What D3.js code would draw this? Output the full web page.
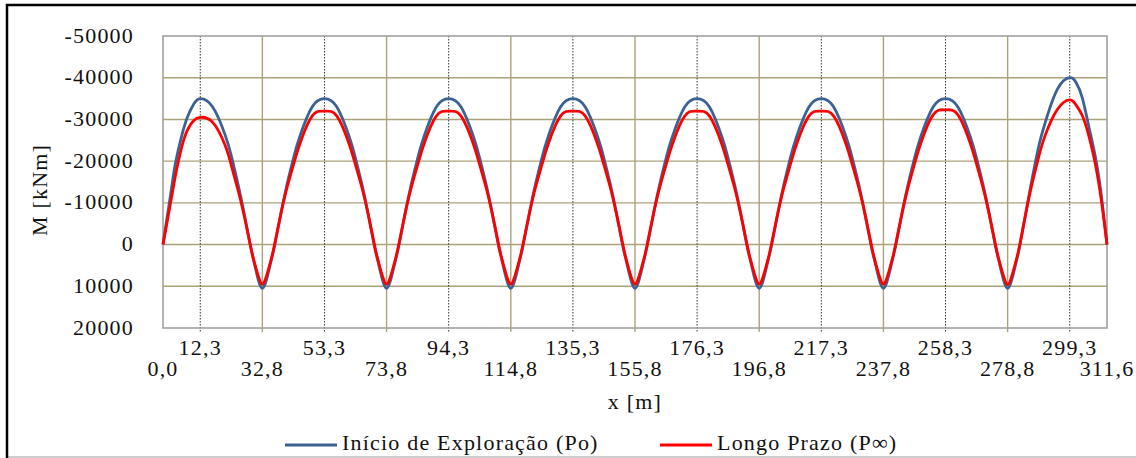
<!DOCTYPE html>
<html>
<head>
<meta charset="utf-8">
<script src="https://cdn.jsdelivr.net/npm/d3@7/dist/d3.min.js"></script>
<style>
    body { margin: 0; background: #fff; }
</style>
</head>
<body>
<svg id="chart" width="1136" height="458"></svg>
<script>
// x positions along the beam [m]
const xPos = [
    0, 1.0, 2.05, 3.1, 4.1, 6.15, 8.2, 10.25, 12.3, 16.4, 20.5, 22.55, 24.6, 26.65, 28.7, 29.7, 30.75, 31.8, 32.8,
    33.8, 34.85, 35.9, 36.9, 38.95, 41.0, 43.05, 45.1, 49.2, 53.3, 57.4, 61.5, 63.55, 65.6, 67.65, 69.7, 70.7, 71.75, 72.8, 73.8,
    74.8, 75.85, 76.9, 77.9, 79.95, 82.0, 84.05, 86.1, 90.2, 94.3, 98.4, 102.5, 104.55, 106.6, 108.65, 110.7, 111.7, 112.75, 113.8, 114.8,
    115.8, 116.85, 117.9, 118.9, 120.95, 123.0, 125.05, 127.1, 131.2, 135.3, 139.4, 143.5, 145.55, 147.6, 149.65, 151.7, 152.7, 153.75, 154.8, 155.8,
    156.8, 157.85, 158.9, 159.9, 161.95, 164.0, 166.05, 168.1, 172.2, 176.3, 180.4, 184.5, 186.55, 188.6, 190.65, 192.7, 193.7, 194.75, 195.8, 196.8,
    197.8, 198.85, 199.9, 200.9, 202.95, 205.0, 207.05, 209.1, 213.2, 217.3, 221.4, 225.5, 227.55, 229.6, 231.65, 233.7, 234.7, 235.75, 236.8, 237.8,
    238.8, 239.85, 240.9, 241.9, 243.95, 246.0, 248.05, 250.1, 254.2, 258.3, 262.4, 266.5, 268.55, 270.6, 272.65, 274.7, 275.7, 276.75, 277.8, 278.8,
    279.8, 280.85, 281.9, 282.9, 284.95, 287.0, 289.05, 291.1, 295.2, 299.3, 301.35, 303.4, 305.45, 307.5, 309.55, 311.6
];

// Moment, initial prestress (Po) [kNm]
const momentPo = [
    0, -4800, -9800, -14900, -19500, -26000, -30800, -33800, -35000, -33000, -26300, -21300, -15000, -8000, -300, 3000, 6400, 9300, 10500,
    9300, 6500, 3250, 100, -7600, -14600, -20700, -25800, -33000, -35000, -33000, -25800, -20700, -14600, -7600, 100, 3250, 6500, 9300, 10500,
    9300, 6500, 3250, 100, -7600, -14600, -20700, -25800, -33000, -35000, -33000, -25800, -20700, -14600, -7600, 100, 3250, 6500, 9300, 10500,
    9300, 6500, 3250, 100, -7600, -14600, -20700, -25800, -33000, -35000, -33000, -25800, -20700, -14600, -7600, 100, 3250, 6500, 9300, 10500,
    9300, 6500, 3250, 100, -7600, -14600, -20700, -25800, -33000, -35000, -33000, -25800, -20700, -14600, -7600, 100, 3250, 6500, 9300, 10500,
    9300, 6500, 3250, 100, -7600, -14600, -20700, -25800, -33000, -35000, -33000, -25800, -20700, -14600, -7600, 100, 3250, 6500, 9300, 10500,
    9300, 6500, 3250, 100, -7600, -14600, -20700, -25800, -33000, -35000, -33000, -25800, -20700, -14600, -7600, 100, 3250, 6500, 9300, 10500,
    9300, 6500, 3300, 0, -8300, -16200, -23500, -29000, -37200, -40000, -38900, -35300, -28800, -22000, -12800, 0
];

// Moment, long term prestress (P∞) [kNm]
const momentPinf = [
    0, -4000, -8200, -12400, -16500, -23300, -27700, -29800, -30500, -29300, -23800, -19000, -13500, -7400, -300, 3000, 5800, 8300, 9500,
    8300, 5800, 3000, -300, -7500, -13800, -19100, -24000, -30800, -32000, -30800, -24000, -19100, -13800, -7500, -300, 3000, 5800, 8300, 9500,
    8300, 5800, 3000, -300, -7500, -13800, -19100, -24000, -30800, -32000, -30800, -24000, -19100, -13800, -7500, -300, 3000, 5800, 8300, 9500,
    8300, 5800, 3000, -300, -7500, -13800, -19100, -24000, -30800, -32000, -30800, -24000, -19100, -13800, -7500, -300, 3000, 5800, 8300, 9500,
    8300, 5800, 3000, -300, -7500, -13800, -19100, -24000, -30800, -32000, -30800, -24000, -19100, -13800, -7500, -300, 3000, 5800, 8300, 9500,
    8300, 5800, 3000, -300, -7500, -13800, -19100, -24000, -30800, -32000, -30800, -24000, -19100, -13800, -7500, -300, 3000, 5800, 8300, 9500,
    8300, 5800, 3000, -300, -7500, -13900, -19300, -24200, -31100, -32300, -31100, -24200, -19300, -13900, -7500, -300, 3000, 5800, 8300, 9600,
    8400, 5900, 3000, -300, -8000, -15000, -21000, -26000, -32400, -34700, -33500, -31000, -26500, -20200, -11500, 0
];

// Tick positions
const xTicksUpper = [12.3, 53.3, 94.3, 135.3, 176.3, 217.3, 258.3, 299.3];
const xTicksLower = [0.0, 32.8, 73.8, 114.8, 155.8, 196.8, 237.8, 278.8, 311.6];
const yTicks = [-50000, -40000, -30000, -20000, -10000, 0, 10000, 20000];

const seriesNames = ["Início de Exploração (Po)", "Longo Prazo (P∞)"];


/**
 * Bending moment line chart
 *
 * @param element svg element
 * @constructor
 */
function MomentChart(element) {
    this.element = element;
    this.svg = null;
    this.x = null;
    this.y = null;

    this.colors = ['#3B6293', '#FF0000'];
    this.gridColor = '#ABA27A';
    this.font = "'Liberation Serif'";

    this.init = function () {
        this.element.innerHTML = "";
        this.setup();
        this.drawGrid();
        this.drawLines();
        this.drawAxes();
        this.drawLegend();
    };


    /**
     * Scales and outer frame
     */
    this.setup = function () {
        let me = this;
        me.svg = d3.select(me.element);

        me.plot = {left: 163, right: 1107, top: 36, bottom: 328};

        me.x = d3.scaleLinear()
            .domain([0, 311.6])
            .range([me.plot.left, me.plot.right]);

        me.y = d3.scaleLinear()
            .domain([-50000, 20000])
            .range([me.plot.top, me.plot.bottom]);

        me.svg.append("rect")
            .attr("width", 1136).attr("height", 458)
            .attr("fill", "#fff");

        // outer frame (cut on the right)
        me.svg.append("line")
            .attr("x1", 7).attr("x2", 1136).attr("y1", 457).attr("y2", 457)
            .attr("stroke", "#bdbdbd").attr("stroke-width", 1.5);
        me.svg.append("path")
            .attr("d", "M7,458V5H1136")
            .attr("fill", "none")
            .attr("stroke", "#000").attr("stroke-width", 2.5);
    };


    /**
     * Gridlines
     */
    this.drawGrid = function () {
        let me = this;
        let g = me.svg.append("g");

        g.selectAll(".hgrid")
            .data(yTicks.slice(1, -1))
            .enter().append("line")
            .attr("x1", me.plot.left).attr("x2", me.plot.right)
            .attr("y1", d => me.y(d)).attr("y2", d => me.y(d))
            .attr("stroke", me.gridColor).attr("stroke-width", 1.4);

        // support lines
        g.selectAll(".vgrid")
            .data(xTicksLower.slice(1, -1))
            .enter().append("line")
            .attr("x1", d => me.x(d)).attr("x2", d => me.x(d))
            .attr("y1", me.plot.top).attr("y2", me.plot.bottom + 4)
            .attr("stroke", me.gridColor).attr("stroke-width", 1.4);

        // midspan lines (dotted)
        g.selectAll(".vdot")
            .data(xTicksUpper)
            .enter().append("line")
            .attr("x1", d => me.x(d)).attr("x2", d => me.x(d))
            .attr("y1", me.plot.top).attr("y2", me.plot.bottom + 4)
            .attr("stroke", "#333").attr("stroke-width", 1)
            .attr("stroke-dasharray", "1.5,1.5");

        g.append("rect")
            .attr("x", me.plot.left).attr("y", me.plot.top)
            .attr("width", me.plot.right - me.plot.left)
            .attr("height", me.plot.bottom - me.plot.top)
            .attr("fill", "none")
            .attr("stroke", "#a0a0a0").attr("stroke-width", 1.6);
    };


    /**
     * Moment lines
     */
    this.drawLines = function () {
        let me = this;
        let line = d3.line()
            .x(function (d, i) {
                return me.x(xPos[i]);
            })
            .y(function (d) {
                return me.y(d);
            })
            .curve(d3.curveNatural);

        [momentPo, momentPinf].forEach(function (data, i) {
            me.svg.append("path")
                .datum(data)
                .attr("d", line)
                .attr("fill", "none")
                .attr("stroke", me.colors[i])
                .attr("stroke-width", 2.8)
                .attr("stroke-linejoin", "round");
        });
    };


    /**
     * Adds a text element with the chart font
     */
    this.label = function (sel) {
        return sel.append("text")
            .style("font-family", this.font)
            .attr("font-size", 22)
            .attr("letter-spacing", 1.2)
            .attr("fill", "#111");
    };


    /**
     * Tick labels and titles
     */
    this.drawAxes = function () {
        let me = this;
        let fmt = d3.formatLocale({decimal: ",", thousands: "", grouping: [3], currency: ["", ""], minus: "-"});
        let fx = fmt.format(".1f");
        let fy = fmt.format("d");
        let t = me.svg.append("g");

        yTicks.forEach(function (d) {
            me.label(t)
                .attr("x", 134)
                .attr("y", me.y(d))
                .attr("dy", "0.3em")
                .attr("text-anchor", "end")
                .text(fy(d));
        });

        xTicksUpper.forEach(function (d) {
            me.label(t)
                .attr("x", me.x(d))
                .attr("y", 355)
                .attr("text-anchor", "middle")
                .text(fx(d));
        });

        xTicksLower.forEach(function (d) {
            me.label(t)
                .attr("x", me.x(d))
                .attr("y", 376)
                .attr("text-anchor", "middle")
                .text(fx(d));
        });

        me.label(t)
            .attr("x", 635).attr("y", 409)
            .attr("text-anchor", "middle")
            .text("x [m]");

        me.label(t)
            .attr("transform", "translate(47,190) rotate(-90)")
            .attr("text-anchor", "middle")
            .text("M [kNm]");
    };


    /**
     * Legend at the bottom
     */
    this.drawLegend = function () {
        let me = this;
        let items = [{x: 285}, {x: 660}];
        let g = me.svg.append("g");

        items.forEach(function (item, i) {
            g.append("line")
                .attr("x1", item.x).attr("x2", item.x + 52)
                .attr("y1", 445).attr("y2", 445)
                .attr("stroke", me.colors[i]).attr("stroke-width", 2.8);
            me.label(g)
                .attr("x", item.x + 57).attr("y", 450)
                .text(seriesNames[i]);
        });
    };


    this.init();
}

new MomentChart(document.getElementById("chart"));
</script>
</body>
</html>
